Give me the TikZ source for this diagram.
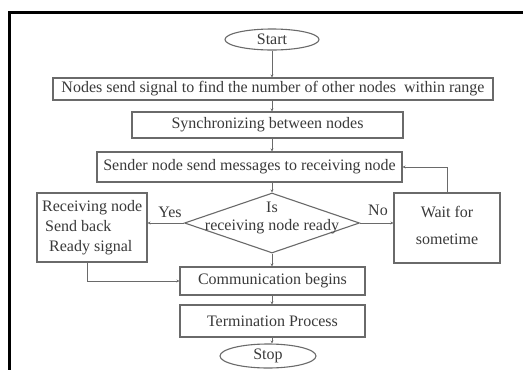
\documentclass[tikz,border=0pt]{standalone}
\usepackage{fontspec}
\setmainfont{Liberation Serif}
\usetikzlibrary{shapes.geometric,arrows.meta}
\definecolor{ink}{HTML}{3A3A3A}
\definecolor{edge}{HTML}{6A6A6A}
\begin{document}
\begin{tikzpicture}[x=1pt,y=-1pt,
  every node/.style={font=\fontsize{16}{18}\selectfont, text=ink},
  box/.style={draw=edge, line width=1.1pt, rectangle, inner sep=0pt, anchor=center},
  oval/.style={draw=edge, line width=1.1pt, ellipse, inner sep=0pt},
  arr/.style={draw=edge, line width=0.9pt, -{Stealth[length=3pt,width=3pt]}},
  lbl/.style={inner sep=0pt}
]
\useasboundingbox (0,0) rectangle (523,370);
\fill[white] (0,0) rectangle (523,370);
% frame
\draw[line width=3pt, black] (526,12.5) -- (9.5,12.5) -- (9.5,373);

% nodes
\node[oval, minimum width=94, minimum height=21] (start) at (272,39.5) {Start};
\node[box, minimum width=440, minimum height=22] (nodes) at (273,89) {Nodes send signal to find the number of other nodes\ \ within range};
\node[box, minimum width=271, minimum height=26] (sync) at (267.5,125) {Synchronizing between nodes};
\node[box, minimum width=305, minimum height=30] (sender) at (249.5,167) {Sender node send messages to receiving node};
\node[draw=edge, line width=1.1pt, diamond, minimum width=175, minimum height=60, inner sep=0pt] (dia) at (272,223) {};
\node[lbl] (is) at (272,207) {Is};
\node[lbl] (rnr) at (272,227) {receiving node ready};
\node[box, minimum width=110, minimum height=69] (recv) at (92,227.5) {};
\node[lbl, anchor=west] (r1) at (42,208) {Receiving node};
\node[lbl, anchor=west] (r2) at (45,226) {Send back};
\node[lbl, anchor=west] (r3) at (49,248) {Ready signal};
\node[box, minimum width=106, minimum height=70] (wait) at (447,228) {};
\node[lbl] (w1) at (447,212) {Wait for};
\node[lbl] (w2) at (447,239) {sometime};
\node[box, minimum width=185, minimum height=28] (comm) at (272.5,281) {Communication begins};
\node[box, minimum width=185, minimum height=32] (term) at (272.5,321) {Termination Process};
\node[oval, minimum width=96, minimum height=24] (stop) at (268,356) {Stop};
\node[lbl] (yes) at (170,212) {Yes};
\node[lbl] (no) at (378,210) {No};

% connectors
\draw[arr] (start.south) -- (start.south |- nodes.north);
\draw[arr] (start.south |- nodes.south) -- (start.south |- sync.north);
\draw[arr] (start.south |- sync.south) -- (start.south |- sender.north);
\draw[arr] (start.south |- sender.south) -- (dia.north);
\draw[arr] (dia.west) -- (dia.west -| recv.east);
\draw[arr] (dia.east) -- (dia.east -| wait.west);
\draw[arr] (wait.north) |- (sender.east);
\draw[arr] ([xshift=-5pt]recv.south) |- (comm.west);
\draw[arr] (dia.south) -- (dia.south |- comm.north);
\draw[arr] (dia.south |- comm.south) -- (dia.south |- term.north);
\draw[arr] (dia.south |- term.south) -- (dia.south |- stop.north);
\end{tikzpicture}
\end{document}
